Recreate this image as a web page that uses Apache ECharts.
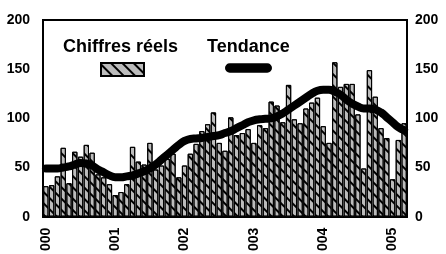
<!DOCTYPE html>
<html>
<head>
<meta charset="utf-8">
<script src="https://cdn.jsdelivr.net/npm/echarts@6.0.0/dist/echarts.min.js"></script>
<style>
    html, body { margin: 0; padding: 0; background: #fff; }
    #chart { width: 446px; height: 254px; }
</style>
</head>
<body>
<div id="chart"></div>
<script>
    // monthly figures, Jan 2000 -> Mar 2005
    const yearLabels = ['000', '001', '002', '003', '004', '005'];
    const actual = [31, 32, 41, 70, 34, 66, 61, 73, 65, 43, 40, 33,
        22, 25, 33, 71, 56, 53, 75, 48, 52, 59, 64, 40,
        52, 64, 74, 87, 94, 106, 75, 67, 101, 83, 85, 89,
        75, 93, 90, 117, 113, 96, 134, 99, 95, 110, 116, 121,
        92, 75, 157, 132, 135, 135, 104, 49, 149, 122, 90, 80,
        38, 78, 95];
    const trend = [49, 49, 49, 50, 51, 53, 54.5, 54, 52, 48, 45, 42,
        40, 40, 41, 42, 44, 46, 49, 53, 58, 63, 68, 73,
        77, 79, 79.5, 80, 81, 82, 83, 85, 87, 90, 93, 96,
        98, 99, 99.5, 100, 102, 105, 109, 113, 117, 121, 125, 128,
        129, 129, 127, 124, 119, 115, 112, 110, 110, 109, 106, 101,
        96, 91, 88];
    const yTicks = [0, 50, 100, 150, 200];

    const months = [];
    yearLabels.forEach(y => {
        for (let m = 1; m <= 12; m++) months.push(y + '/' + m);
    });
    const categories = months.slice(0, actual.length);

    const font = 'Liberation Sans, Arial, sans-serif';
    const labelStyle = {fontSize: 14, fontWeight: 'bold', color: '#000', fontFamily: font};
    const yAxisBase = {
        type: 'value',
        min: yTicks[0], max: yTicks[yTicks.length - 1], interval: 50,
        splitLine: {show: false},
        axisTick: {show: false},
        axisLine: {show: true, lineStyle: {color: '#000', width: 2}}
    };
    const legendText = {
        icon: 'none', itemWidth: 0, itemHeight: 0, top: 38, padding: 0,
        selectedMode: false,
        textStyle: {fontSize: 18, fontWeight: 'bold', color: '#000', fontFamily: font}
    };

    const option = {
        animation: false,
        grid: {left: 43, right: 39, top: 20, bottom: 36, show: true, borderColor: '#000', borderWidth: 2},
        legend: [
            Object.assign({data: ['Chiffres réels'], left: 58}, legendText),
            Object.assign({data: ['Tendance'], left: 202}, legendText),
            {data: [{name: 'Chiffres réels', icon: 'rect'}], left: 100, top: 62, itemWidth: 43, itemHeight: 13,
                padding: 0, selectedMode: false, formatter: () => ''},
            {data: [{name: 'Tendance', icon: 'path://M5,0 H45 A5,5 0 0 1 45,10 H5 A5,5 0 0 1 5,0 Z'}],
                left: 225, top: 63, itemWidth: 47, itemHeight: 10, padding: 0, selectedMode: false, formatter: () => ''}
        ],
        xAxis: {
            type: 'category',
            data: categories,
            axisTick: {show: false},
            axisLine: {lineStyle: {color: '#000', width: 2}},
            axisLabel: Object.assign({
                interval: (i) => i % 12 === 0,
                rotate: 90, margin: 11,
                formatter: v => v.split('/')[0]
            }, labelStyle)
        },
        yAxis: [
            Object.assign({position: 'left', axisLabel: Object.assign({margin: 13}, labelStyle)}, yAxisBase),
            Object.assign({position: 'right', axisLabel: Object.assign({margin: 8}, labelStyle)}, yAxisBase)
        ],
        series: [
            {
                name: 'Chiffres réels',
                type: 'bar',
                data: actual,
                barCategoryGap: '8%',
                itemStyle: {
                    color: '#bcbcbc', borderColor: '#000', borderWidth: 1,
                    decal: {
                        symbol: 'rect', symbolSize: 1, color: '#000',
                        dashArrayX: [1, 0], dashArrayY: [2, 6], rotation: Math.PI / 4
                    }
                }
            },
            {
                name: 'Tendance',
                type: 'line',
                data: trend,
                smooth: true,
                symbol: 'none',
                z: 5,
                itemStyle: {color: '#000'},
                lineStyle: {color: '#000', width: 8, cap: 'round'}
            }
        ]
    };

    let myChart = echarts.init(document.getElementById('chart'));
    myChart.setOption(option);
</script>
</body>
</html>
